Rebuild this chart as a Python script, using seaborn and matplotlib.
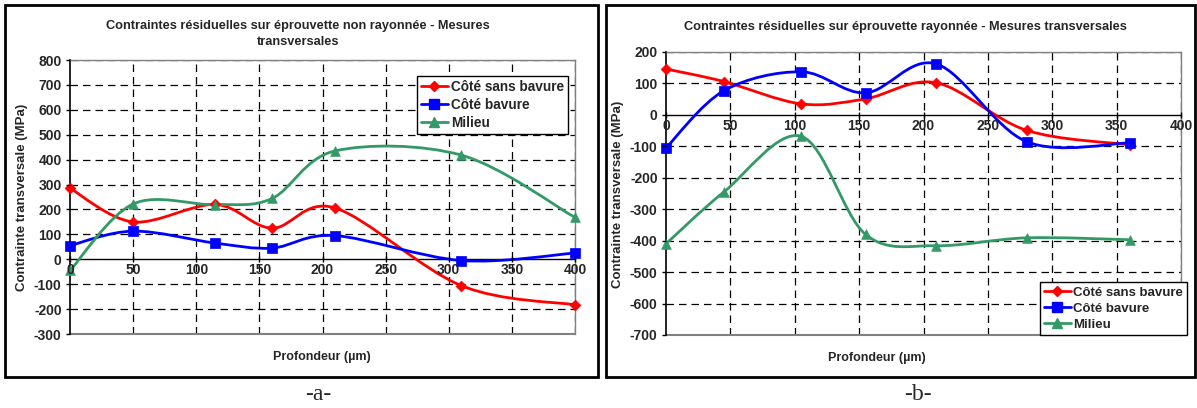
import numpy as np
import matplotlib
matplotlib.use("Agg")
import matplotlib.pyplot as plt
import seaborn as sns
from matplotlib.path import Path
from matplotlib.patches import PathPatch, Rectangle
from matplotlib.lines import Line2D

# panel a : eprouvette non rayonnee
depth_a = [0, 50, 115, 160, 210, 310, 400]
sans_bavure_a = [285, 150, 220, 125, 206, -106, -183]
bavure_a = [55, 113, 65, 45, 95, -5, 25]
milieu_a = [-45, 222, 219, 244, 435, 418, 168]

# panel b : eprouvette rayonnee
depth_b = [0, 45, 105, 155, 210, 280, 360]
sans_bavure_b = [146, 106, 35, 51, 102, -49, -95]
bavure_b = [-105, 77, 137, 70, 162, -85, -89]
milieu_b = [-410, -245, -68, -380, -416, -391, -397]

series_names = ["Côté sans bavure", "Côté bavure", "Milieu"]
colors = ["#FF0000", "#0000FF", "#339966"]
markers = ["D", "s", "^"]
msizes = [30, 60, 48]

title_a = "Contraintes résiduelles sur éprouvette non rayonnée - Mesures\ntransversales"
title_b = "Contraintes résiduelles sur éprouvette rayonnée - Mesures transversales"
ylabel = "Contrainte transversale (MPa)"
xlabel = "Profondeur (µm)"

sns.set_style("white")
plt.rcParams['font.family'] = ['Liberation Sans', 'DejaVu Sans']
plt.rcParams['axes.unicode_minus'] = False


def smooth_path(x, y):
    # excel-like smoothed line (catmull-rom bezier)
    pts = np.column_stack([x, y]).astype(float)
    n = len(pts)
    verts = [pts[0]]
    codes = [Path.MOVETO]
    for i in range(n - 1):
        p0 = pts[i - 1] if i > 0 else pts[i]
        p1 = pts[i]
        p2 = pts[i + 1]
        p3 = pts[i + 2] if i + 2 < n else pts[i + 1]
        verts += [p1 + (p2 - p0) / 6, p2 - (p3 - p1) / 6, p2]
        codes += [Path.CURVE4] * 3
    return Path(verts, codes)


def draw_panel(ax, depth, ys, ylim, yticks):
    xticks = np.arange(0, 401, 50)
    ax.set_xlim(0, 400)
    ax.set_ylim(*ylim)
    ax.set_xticks(xticks)
    ax.set_yticks(yticks)
    ax.grid(False)
    dash = (0, (6, 4))
    for xv in xticks[1:-1]:
        ax.axvline(xv, color="black", linestyle=dash, linewidth=0.9, zorder=1)
    for yv in yticks[1:]:
        if yv != 0:
            ax.axhline(yv, color="black", linestyle=dash, linewidth=0.9, zorder=1)
    ax.axvline(400, color="black", linestyle=dash, linewidth=0.9, zorder=1)
    for y, c, m, s in zip(ys, colors, markers, msizes):
        ax.add_patch(PathPatch(smooth_path(depth, y), fill=False, edgecolor=c,
                               linewidth=2, zorder=3))
        sns.scatterplot(x=depth, y=y, marker=m, color=c, s=s, edgecolor=c,
                        linewidth=0.5, ax=ax, zorder=4, legend=False, clip_on=False)
    for side in ["top", "right"]:
        ax.spines[side].set_color("#808080")
        ax.spines[side].set_linewidth(1)
    ax.spines["left"].set_color("black")
    ax.spines["left"].set_linewidth(1.2)
    ax.spines["bottom"].set_position(("data", 0))
    ax.spines["bottom"].set_color("black")
    ax.spines["bottom"].set_linewidth(1)
    ax.axhline(ylim[0], color="#808080", linewidth=1.5, clip_on=False)
    ax.xaxis.set_zorder(5)
    ax.yaxis.set_zorder(5)
    ax.tick_params(axis="both", which="both", labelsize=10, length=4, width=1,
                   direction="inout", color="black", pad=1,
                   bottom=True, left=True)
    ax.tick_params(axis="y", direction="out", length=3, pad=3)
    for lab in ax.get_xticklabels() + ax.get_yticklabels():
        lab.set_fontweight("bold")


fig = plt.figure(figsize=(11.97, 4.08), dpi=100)
W, H = 1197, 408

ax_a = fig.add_axes([70 / W, 1 - 334 / H, 505 / W, 274 / H])
draw_panel(ax_a, depth_a, [sans_bavure_a, bavure_a, milieu_a],
           (-300, 800), np.arange(-300, 801, 100))

ax_b = fig.add_axes([666 / W, 1 - 335 / H, 515 / W, 283 / H])
draw_panel(ax_b, depth_b, [sans_bavure_b, bavure_b, milieu_b],
           (-700, 200), np.arange(-700, 201, 100))

handles = [Line2D([], [], color=c, marker=m, markersize=ms, linewidth=2)
           for c, m, ms in zip(colors, markers, [5, 7, 7])]

leg_a = fig.legend(handles, series_names, loc="upper right",
                   bbox_to_anchor=(568 / W, 1 - 76 / H), frameon=True,
                   fancybox=False, edgecolor="black", handlelength=2.0,
                   handletextpad=0.2, borderpad=0.3, labelspacing=0.28,
                   borderaxespad=0, framealpha=1,
                   prop={"weight": "bold", "size": 9.8})
leg_a.get_frame().set_linewidth(1)
leg_b = fig.legend(handles, series_names, loc="lower right",
                   bbox_to_anchor=(1187 / W, 1 - 335 / H), frameon=True,
                   fancybox=False, edgecolor="black", handlelength=2.0,
                   handletextpad=0.2, borderpad=0.3, labelspacing=0.3,
                   borderaxespad=0, framealpha=1,
                   prop={"weight": "bold", "size": 9.5})
leg_b.get_frame().set_linewidth(1)

# titles and axis labels
fig.text(298 / W, 1 - 34 / H, title_a, ha="center", va="center",
         fontsize=9.2, fontweight="bold", linespacing=1.45)
fig.text(905 / W, 1 - 27 / H, title_b, ha="center", va="center",
         fontsize=9.2, fontweight="bold")
fig.text(22 / W, 1 - 197 / H, ylabel, rotation=90, ha="center", va="center",
         fontsize=9.5, fontweight="bold")
fig.text(618 / W, 1 - 194 / H, ylabel, rotation=90, ha="center", va="center",
         fontsize=9.5, fontweight="bold")
fig.text(322 / W, 1 - 357 / H, xlabel, ha="center", va="center",
         fontsize=9, fontweight="bold")
fig.text(877 / W, 1 - 358 / H, xlabel, ha="center", va="center",
         fontsize=9, fontweight="bold")

# panel frames
for x0, x1 in [(5, 598), (606, 1195)]:
    fig.add_artist(Rectangle((x0 / W, 1 - 377 / H), (x1 - x0) / W, 372 / H,
                             transform=fig.transFigure, fill=False,
                             edgecolor="black", linewidth=2))

fig.text(318 / W, 1 - 394 / H, "-a-", ha="center", va="center",
         fontsize=17, family=["Liberation Serif", "DejaVu Serif"])
fig.text(918 / W, 1 - 394 / H, "-b-", ha="center", va="center",
         fontsize=17, family=["Liberation Serif", "DejaVu Serif"])

fig.savefig("out.png", dpi=100)
